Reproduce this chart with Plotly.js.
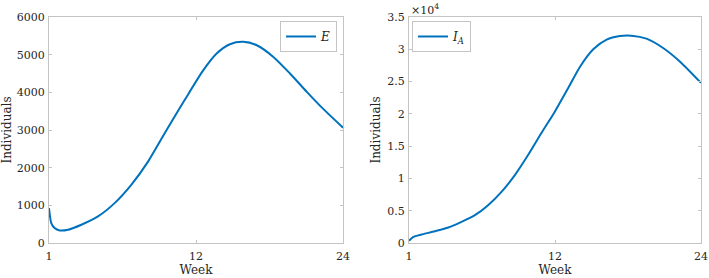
<!DOCTYPE html>
<html>
<head>
<meta charset="utf-8">
<script src="https://cdn.plot.ly/plotly-3.0.1.min.js"></script>
<style>html,body{margin:0;padding:0;background:#fff;}#chart{width:709px;height:278px;}</style>
</head>
<body>
<div id="chart"></div>
<script>
// Time in days from start of week 1 (0..168); ticks labelled by week
const daysE = [0, 1.3, 3.2, 6.1, 10.9, 18.5, 28, 37.5, 47, 56.6, 66.1, 77.5, 88.2, 95.8, 103.4, 111, 118.7, 128.2, 137.7, 147.3, 156.7, 168];
const valuesE = [927, 530, 397, 334, 352, 485, 706, 1059, 1544, 2161, 2913, 3794, 4589, 5031, 5277, 5340, 5250, 4941, 4500, 4014, 3560, 3060];

const daysIA = [0, 2.5, 7.2, 14.9, 22.6, 30.2, 37.9, 45.5, 53.2, 60.9, 68.5, 76.1, 83.8, 91.6, 98.4, 106.0, 113.7, 121.3, 128, 136.6, 146.2, 155.8, 168];
const valuesIA = [350, 932, 1305, 1818, 2392, 3262, 4303, 5857, 7923, 10517, 13624, 17000, 20300, 24000, 27300, 30000, 31500, 32050, 32100, 31645, 30200, 28117, 24800];

const weekTickVals = [0, 84, 168];
const weekTickText = ['1', '12', '24'];
const yTickValsE = [0, 1000, 2000, 3000, 4000, 5000, 6000];
const yTickValsIA = [0, 5000, 10000, 15000, 20000, 25000, 30000, 35000];
const yTickTextIA = ['0', '0.5', '1', '1.5', '2', '2.5', '3', '3.5'];

const lineColor = '#0072BD';
const frame = '#c4c4c4';
const textColor = '#262626';
const tickFont = {family: 'DejaVu Serif', size: 11, color: textColor};
const titleFont = {family: 'DejaVu Serif', size: 12, color: textColor};

const traces = [
  {x: daysE, y: valuesE, type: 'scatter', mode: 'lines', name: '<i>E</i>',
   line: {color: lineColor, width: 2, shape: 'spline', smoothing: 0.7}, xaxis: 'x', yaxis: 'y', legend: 'legend'},
  {x: daysIA, y: valuesIA, type: 'scatter', mode: 'lines', name: '<i>I<sub>A</sub></i>',
   line: {color: lineColor, width: 2, shape: 'spline', smoothing: 0.7}, xaxis: 'x2', yaxis: 'y2', legend: 'legend2'}
];

function xAxis(domain, anchor) {
  return {domain: domain, anchor: anchor, range: [0, 168], tickvals: weekTickVals, ticktext: weekTickText,
    showline: true, mirror: 'ticks', linecolor: frame, linewidth: 1, ticks: 'inside', ticklen: 3, tickcolor: frame,
    showgrid: false, zeroline: false, tickfont: tickFont, ticklabelstandoff: 3,
    title: {text: 'Week', font: titleFont, standoff: 3}};
}
function yAxis(domain, anchor, range, tv, tt) {
  const a = {domain: domain, anchor: anchor, range: range, tickvals: tv,
    showline: true, mirror: 'ticks', linecolor: frame, linewidth: 1, ticks: 'inside', ticklen: 3, tickcolor: frame,
    showgrid: false, zeroline: false, tickfont: tickFont, ticklabelstandoff: 1,
    title: {text: 'Individuals', font: titleFont, standoff: 4}};
  if (tt) a.ticktext = tt;
  return a;
}

const layout = {
  width: 709, height: 278,
  margin: {l: 0, r: 0, t: 0, b: 0},
  paper_bgcolor: '#fff', plot_bgcolor: '#fff',
  font: titleFont,
  xaxis: xAxis([0.0691, 0.4838], 'y'),
  yaxis: yAxis([0.1259, 0.9388], 'x', [0, 6000], yTickValsE, null),
  xaxis2: xAxis([0.5769, 0.9887], 'y2'),
  yaxis2: yAxis([0.1259, 0.9388], 'x2', [0, 35000], yTickValsIA, yTickTextIA),
  showlegend: true,
  legend: {x: 0.4753, y: 0.9245, xanchor: 'right', yanchor: 'top', bgcolor: '#fff',
    bordercolor: frame, borderwidth: 1, font: titleFont, itemwidth: 30, tracegroupgap: 0},
  legend2: {x: 0.5811, y: 0.9245, xanchor: 'left', yanchor: 'top', bgcolor: '#fff',
    bordercolor: frame, borderwidth: 1, font: titleFont, itemwidth: 30, tracegroupgap: 0},
  annotations: [
    {text: '×10<sup>4</sup>', xref: 'paper', yref: 'paper', x: 0.5769, y: 0.9388, xanchor: 'left', yanchor: 'bottom',
     showarrow: false, font: tickFont, yshift: -2}
  ]
};

Plotly.newPlot('chart', traces, layout, {displayModeBar: false, staticPlot: true});
</script>
</body>
</html>
